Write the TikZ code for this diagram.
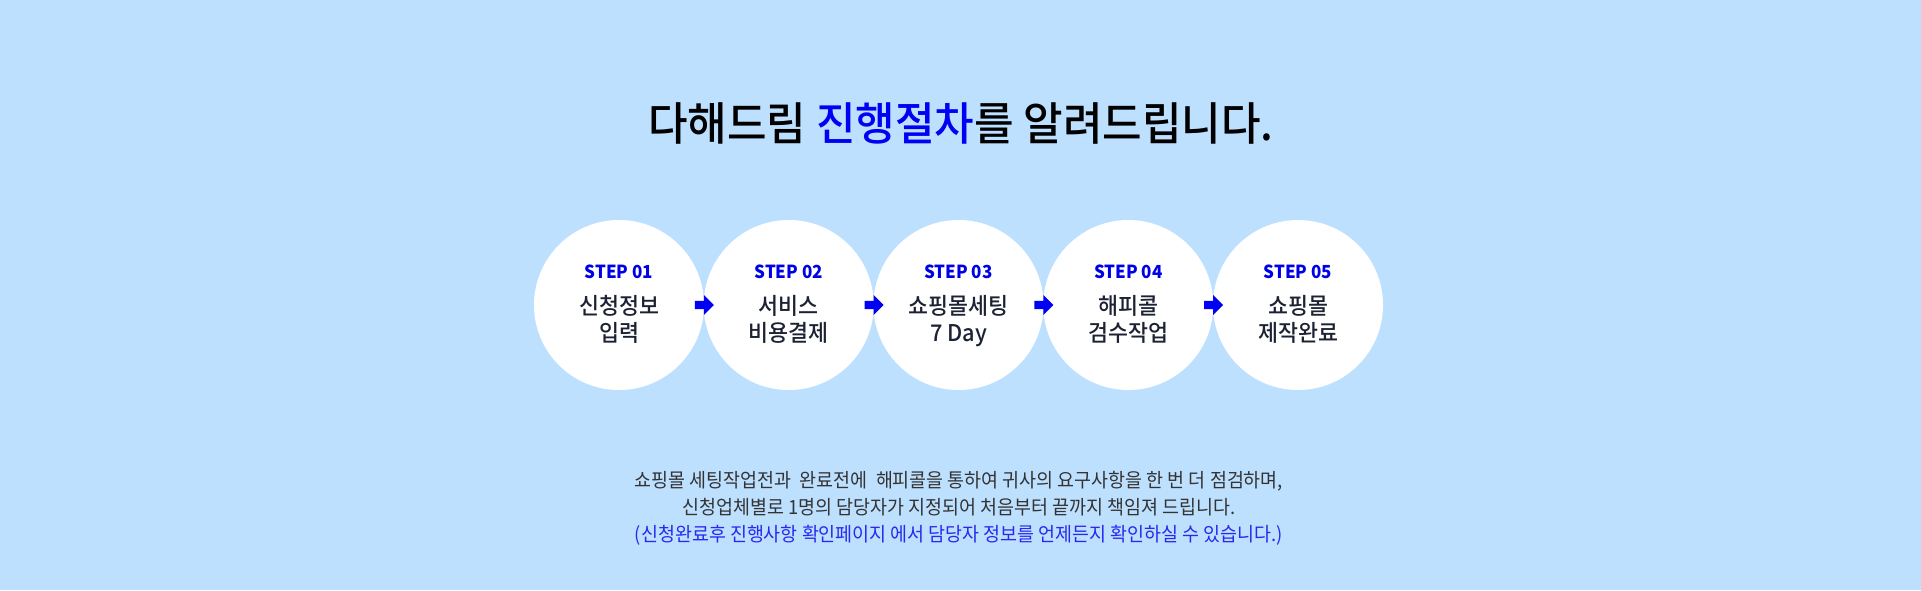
\documentclass[tikz,border=0pt]{standalone}
\usepackage{fontspec}
\usetikzlibrary{calc}
\newfontfamily\krfont{Noto Sans CJK KR}[FakeStretch=0.945]
\newfontfamily\krmed{Noto Sans CJK KR Medium}[FakeStretch=0.945]
\definecolor{bgc}{RGB}{190,224,255}
\definecolor{bluec}{RGB}{0,0,245}
\definecolor{stepblue}{RGB}{0,0,230}
\definecolor{notec}{RGB}{40,40,240}
\definecolor{namec}{RGB}{28,34,51}
\definecolor{bodyc}{RGB}{51,51,51}
\tikzset{
  stepcircle/.style={circle, fill=white, draw=none, minimum size=170pt, inner sep=0pt},
  steplbl/.style={anchor=base, inner sep=0pt, text=stepblue, font=\krfont\bfseries\fontsize{18}{20}\selectfont},
  stepname/.style={anchor=base, inner sep=0pt, text=namec, font=\krmed\fontsize{23}{27}\selectfont, align=center},
  titletxt/.style={anchor=base, inner sep=0pt, text=black, font=\krmed\fontsize{45.5}{50}\selectfont},
  bodytxt/.style={anchor=base, inner sep=0pt, text=bodyc, font=\krfont\fontsize{19.5}{27}\selectfont},
  notetxt/.style={bodytxt, text=notec},
  blockarrow/.style={fill=bluec, draw=none}
}
\begin{document}
\begin{tikzpicture}[x=1pt, y=-1pt]
\fill[bgc] (0,0) rectangle (1921,590);
\useasboundingbox (0,0) rectangle (1921,590);
% title
\node[titletxt] (title) at (961,140.5) {다해드림 \textcolor{bluec}{진행절차}를 알려드립니다.};
% circles
\foreach \i/\x in {1/619,2/788.75,3/958.5,4/1128.25,5/1298} {
  \node[stepcircle] (s\i) at (\x,305) {};
}
\node[steplbl] (l1) at ($(s1.center)+(0,-27)$) {STEP 01};
\node[steplbl] (l2) at ($(s2.center)+(0,-27)$) {STEP 02};
\node[steplbl] (l3) at ($(s3.center)+(0,-27)$) {STEP 03};
\node[steplbl] (l4) at ($(s4.center)+(0,-27)$) {STEP 04};
\node[steplbl] (l5) at ($(s5.center)+(0,-27)$) {STEP 05};
\node[stepname] (n1a) at ($(s1.center)+(0,9)$) {신청정보};
\node[stepname] (n1b) at ($(s1.center)+(0,36)$) {입력};
\node[stepname] (n2a) at ($(s2.center)+(0,9)$) {서비스};
\node[stepname] (n2b) at ($(s2.center)+(0,36)$) {비용결제};
\node[stepname] (n3a) at ($(s3.center)+(0,9)$) {쇼핑몰세팅};
\node[stepname] (n3b) at ($(s3.center)+(0,36)$) {7 Day};
\node[stepname] (n4a) at ($(s4.center)+(0,9)$) {해피콜};
\node[stepname] (n4b) at ($(s4.center)+(0,36)$) {검수작업};
\node[stepname] (n5a) at ($(s5.center)+(0,9)$) {쇼핑몰};
\node[stepname] (n5b) at ($(s5.center)+(0,36)$) {제작완료};
% arrows between circles
\foreach \a/\b in {1/2,2/3,3/4,4/5} {
  \coordinate (m\a) at ($(s\a.east)!0.5!(s\b.west)$);
  \fill[blockarrow] ($(m\a)+(-9,-4.2)$) -- ($(m\a)+(0,-4.2)$) -- ($(m\a)+(0,-10)$)
     -- ($(m\a)+(10,0)$) -- ($(m\a)+(0,10)$) -- ($(m\a)+(0,4.2)$) -- ($(m\a)+(-9,4.2)$) -- cycle;
}
% body text
\node[bodytxt] (b1) at (959,487) {쇼핑몰 세팅작업전과\ \ 완료전에\ \ 해피콜을 통하여 귀사의 요구사항을 한 번 더 점검하며,};
\node[bodytxt] (b2) at (959,514) {신청업체별로 1명의 담당자가 지정되어 처음부터 끝까지 책임져 드립니다.};
\node[notetxt] (b3) at (959,541) {(신청완료후 진행사항 확인페이지 에서 담당자 정보를 언제든지 확인하실 수 있습니다.)};
\end{tikzpicture}
\end{document}
